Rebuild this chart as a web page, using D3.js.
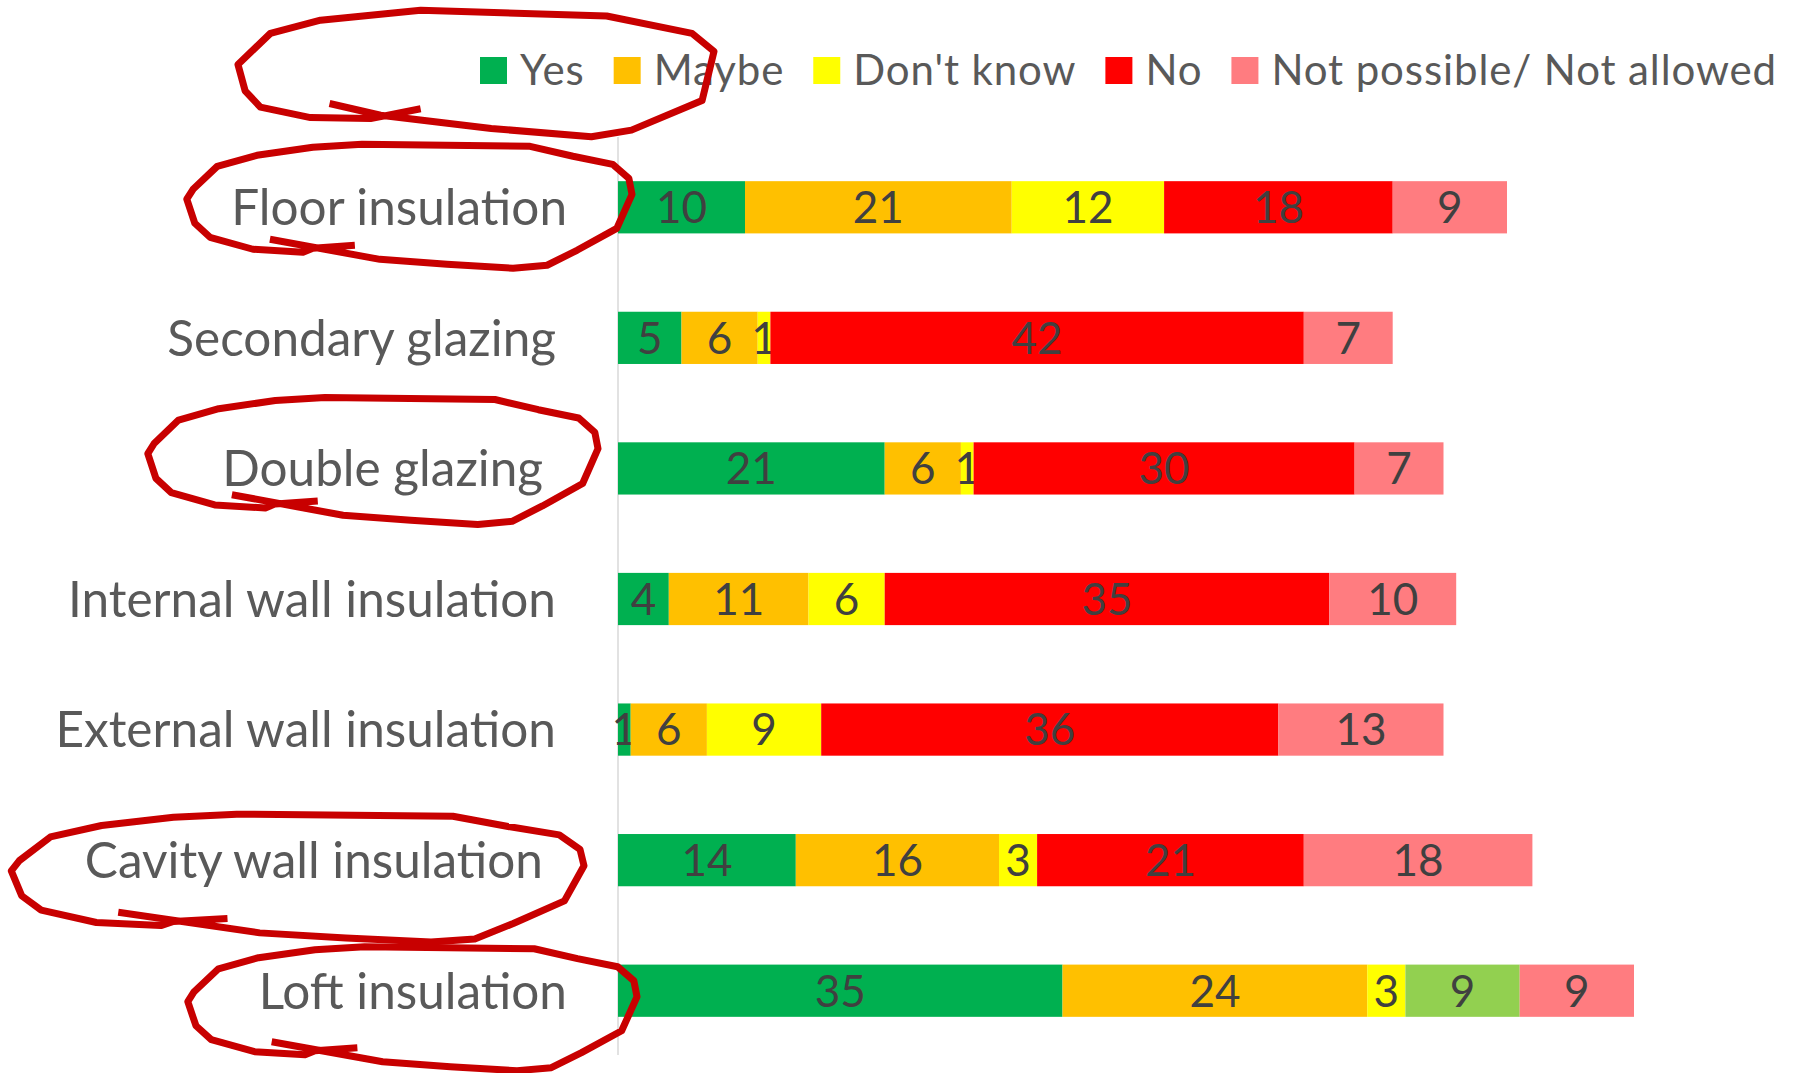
<!DOCTYPE html>
<html><head><meta charset="utf-8">
<script src="https://cdn.jsdelivr.net/npm/d3@7"></script>
<style>html,body{margin:0;padding:0;background:#fff;} svg{display:block;}</style>
</head><body>
<svg id="chart" width="1794" height="1073"></svg>
<script>
// ---------- DATA ----------
const categories = ["Floor insulation","Secondary glazing","Double glazing","Internal wall insulation","External wall insulation","Cavity wall insulation","Loft insulation"];
const seriesKeys = ["Yes","Maybe","Don't know","No","Not possible/ Not allowed"];
const yesValues         = [10, 5, 21, 4, 1, 14, 35];
const maybeValues       = [21, 6, 6, 11, 6, 16, 24];
const dontKnowValues    = [12, 1, 1, 6, 9, 3, 3];
const noValues          = [18, 42, 30, 35, 36, 21, 9];
const notPossibleValues = [9, 7, 7, 10, 13, 18, 9];
const seriesColors = ["#00B050","#FFC000","#FFFF00","#FF0000","#FF7C80"];
const pointColorOverrides = [{category:"Loft insulation", series:"No", color:"#92D050"}];
const circledItems = ["legend","Floor insulation","Double glazing","Cavity wall insulation","Loft insulation"];
const xMax = 80;

// ---------- BUILD ----------
const valueCols = [yesValues, maybeValues, dontKnowValues, noValues, notPossibleValues];
const rows = categories.map((c,i)=>{
  const r = {category:c};
  seriesKeys.forEach((k,j)=>{ r[k] = valueCols[j][i]; });
  return r;
});
const stacked = d3.stack().keys(seriesKeys)(rows);

const svg = d3.select("#chart");
const FONT = "Lato, 'Open Sans', 'DejaVu Sans', sans-serif";
const x = d3.scaleLinear().domain([0, xMax]).range([618, 1634]);
const y = d3.scaleBand().domain(categories).range([142, 1056]).paddingInner(0.6).paddingOuter(0.3);
const bw = y.bandwidth();
const color = d3.scaleOrdinal().domain(seriesKeys).range(seriesColors);
function fillFor(series, cat){
  const o = pointColorOverrides.find(p=>p.category===cat && p.series===series);
  return o ? o.color : color(series);
}

// axis line
svg.append("line").attr("x1", x(0)).attr("x2", x(0)).attr("y1", 137).attr("y2", 1055)
  .attr("stroke", "#D9D9D9").attr("stroke-width", 1.5);

// bars
const layers = svg.append("g").selectAll("g").data(stacked).join("g");
layers.selectAll("rect").data(s => s.map(d => ({key:s.key, d}))).join("rect")
  .attr("x", o => x(o.d[0]))
  .attr("width", o => x(o.d[1]) - x(o.d[0]))
  .attr("y", o => y(o.d.data.category))
  .attr("height", bw)
  .attr("fill", o => fillFor(o.key, o.d.data.category));

// data labels
layers.selectAll("text").data(s => s.map(d => ({key:s.key, d}))).join("text")
  .attr("x", o => x((o.d[0] + o.d[1]) / 2))
  .attr("y", o => y(o.d.data.category) + bw / 2)
  .attr("dy", "0.36em")
  .attr("text-anchor", "middle")
  .attr("font-family", FONT).attr("font-size", 44)
  .attr("fill", "#404040")
  .text(o => o.d[1] - o.d[0]);

// category labels (circled labels were shifted in the original)
const labelShift = {"Floor insulation": 11, "Loft insulation": 11, "Double glazing": -13, "Cavity wall insulation": -13};
const labelRight = 556;
svg.append("g").selectAll("text").data(categories).join("text")
  .attr("x", c => labelRight + (labelShift[c] || 0))
  .attr("y", c => y(c) + bw / 2)
  .attr("dy", "0.36em")
  .attr("text-anchor", "end")
  .attr("font-family", FONT).attr("font-size", 49.5)
  .attr("fill", "#595959")
  .text(c => c);

// legend
const legend = svg.append("g");
let lx = 480;
seriesKeys.forEach((k) => {
  legend.append("rect").attr("x", lx).attr("y", 57).attr("width", 27).attr("height", 27).attr("fill", color(k));
  const t = legend.append("text").attr("x", lx + 40).attr("y", 85)
    .attr("font-family", FONT).attr("font-size", 42).attr("letter-spacing", "0.9px")
    .attr("fill", "#595959").text(k);
  lx = lx + 40 + t.node().getComputedTextLength() + 29;
});

// hand-drawn red annotation loops
const loopShape = [[.380,.810],[.286,.833],[.264,.865],[.152,.841],[.056,.746],[.022,.635],[.004,.444],[.018,.365],[.072,.183],[.161,.095],[.286,.032],[.396,.008],[.772,.024],[.868,.103],[.957,.167],[.993,.278],[1,.405],[.966,.675],[.877,.849],[.810,.968],[.734,.992],[.586,.960],[.436,.921],[.190,.762]];
const legendLoopShape = [[.385,.778],[.280,.855],[.154,.847],[.049,.765],[.017,.636],[.002,.429],[.070,.184],[.175,.080],[.385,.002],[.775,.047],[.954,.184],[1,.326],[.975,.713],[.827,.946],[.743,.998],[.533,.933],[.301,.829],[.194,.736]];
// boxes relative to the label's right edge and band centre
const loopBoxes = {
  "Floor insulation":       {l:-381, r:66, t:-64, b:62},
  "Double glazing":         {l:-396, r:56, t:-72, b:57},
  "Cavity wall insulation": {l:-533, r:42, t:-47, b:83},
  "Loft insulation":        {l:-380, r:71, t:-45, b:81}
};
const line = d3.line().curve(d3.curveLinear);
const ann = svg.append("g").attr("fill", "none").attr("stroke", "#C80000")
  .attr("stroke-width", 7).attr("stroke-linejoin", "round").attr("stroke-linecap", "butt");
circledItems.forEach(item => {
  let box, shape;
  if (item === "legend") {
    box = {x0: 237, x1: 714, y0: 10, y1: 137}; shape = legendLoopShape;
  } else {
    const b = loopBoxes[item];
    const rx = labelRight - 1 + (labelShift[item] || 0);
    const cy = y(item) + bw / 2;
    box = {x0: rx + b.l, x1: rx + b.r, y0: cy + b.t, y1: cy + b.b}; shape = loopShape;
  }
  const pts = shape.map(([u,v]) => [box.x0 + u * (box.x1 - box.x0), box.y0 + v * (box.y1 - box.y0)]);
  ann.append("path").attr("d", line(pts));
});
</script>
</body></html>
